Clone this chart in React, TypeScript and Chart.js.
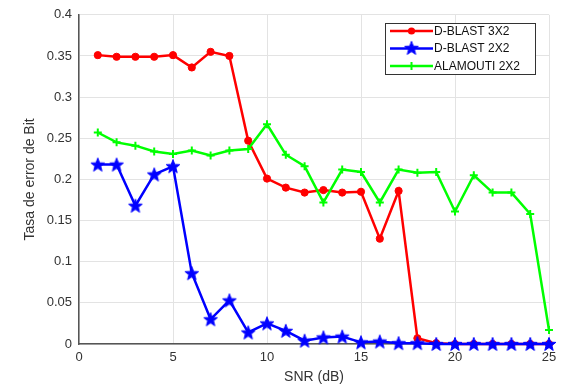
import React, { useEffect, useRef } from "react";
import { Chart, registerables } from "chart.js";

Chart.register(...registerables);

const snr = [1, 2, 3, 4, 5, 6, 7, 8, 9, 10, 11, 12, 13, 14, 15, 16, 17, 18, 19, 20, 21, 22, 23, 24, 25];
const dblast3x2 = [0.351, 0.349, 0.349, 0.349, 0.351, 0.336, 0.355, 0.35, 0.247, 0.201, 0.19, 0.184, 0.187, 0.184, 0.185, 0.128, 0.186, 0.007, 0.001, 0, 0, 0, 0, 0, 0];
const dblast2x2 = [0.218, 0.218, 0.168, 0.206, 0.216, 0.086, 0.03, 0.053, 0.014, 0.025, 0.016, 0.004, 0.008, 0.009, 0.002, 0.003, 0.001, 0.001, 0, 0, 0, 0, 0, 0, 0];
const alamouti = [0.257, 0.245, 0.241, 0.234, 0.231, 0.235, 0.229, 0.235, 0.237, 0.267, 0.23, 0.216, 0.172, 0.212, 0.209, 0.172, 0.212, 0.208, 0.209, 0.161, 0.205, 0.184, 0.184, 0.158, 0.017];
const seriesLabels = ["D-BLAST 3X2", "D-BLAST 2X2", "ALAMOUTI 2X2"];
const xTitle = "SNR (dB)";
const yTitle = "Tasa de error de Bit";

const FONT = "'Liberation Sans', Arial, sans-serif";

function drawStarPath(ctx: CanvasRenderingContext2D, cx: number, cy: number, ro: number, ri: number) {
  ctx.beginPath();
  for (let i = 0; i < 10; i++) {
    const r = i % 2 === 0 ? ro : ri;
    const a = -Math.PI / 2 + (i * Math.PI) / 5;
    const px = cx + r * Math.cos(a);
    const py = cy + r * Math.sin(a);
    if (i === 0) ctx.moveTo(px, py);
    else ctx.lineTo(px, py);
  }
  ctx.closePath();
}

function makeStar(color: string): HTMLCanvasElement {
  const c = document.createElement("canvas");
  c.width = 16;
  c.height = 16;
  const ctx = c.getContext("2d")!;
  drawStarPath(ctx, 8, 8.6, 7.2, 3.0);
  ctx.fillStyle = color;
  ctx.fill();
  ctx.strokeStyle = color;
  ctx.lineWidth = 1;
  ctx.stroke();
  return c;
}

const legendPlugin = {
  id: "insideLegend",
  afterDraw(chart: any) {
    const ctx = chart.ctx as CanvasRenderingContext2D;
    const bx = 385.5, by = 23.5, bw = 150, bh = 51;
    ctx.save();
    ctx.fillStyle = "#ffffff";
    ctx.fillRect(bx, by, bw, bh);
    ctx.strokeStyle = "#333333";
    ctx.lineWidth = 1;
    ctx.strokeRect(bx, by, bw, bh);
    const rows = [31, 48.5, 66];
    chart.data.datasets.forEach((ds: any, i: number) => {
      const y = rows[i];
      ctx.strokeStyle = ds.borderColor;
      ctx.lineWidth = 2.5;
      ctx.beginPath();
      ctx.moveTo(390, y);
      ctx.lineTo(433, y);
      ctx.stroke();
      const mx = 411.5;
      if (ds.markerKind === "circle") {
        ctx.fillStyle = ds.borderColor;
        ctx.beginPath();
        ctx.arc(mx, y, 3.6, 0, Math.PI * 2);
        ctx.fill();
      } else if (ds.markerKind === "star") {
        ctx.drawImage(ds.pointStyle, mx - 8, y - 8.6);
      } else {
        ctx.lineWidth = 2;
        ctx.beginPath();
        ctx.moveTo(mx - 4, y);
        ctx.lineTo(mx + 4, y);
        ctx.moveTo(mx, y - 4);
        ctx.lineTo(mx, y + 4);
        ctx.stroke();
      }
      ctx.fillStyle = "#111111";
      ctx.font = `12px ${FONT}`;
      ctx.textBaseline = "middle";
      ctx.textAlign = "left";
      ctx.fillText(ds.label, 434, y + 0.5);
    });
    ctx.restore();
  },
};

export default function App() {
  const ref = useRef<HTMLCanvasElement | null>(null);
  useEffect(() => {
    if (!ref.current) return;
    const star = makeStar("#0000ff");
    const toXY = (arr: number[]) => arr.map((v, i) => ({ x: snr[i], y: v }));
    const chart = new Chart(ref.current, {
      type: "line",
      data: {
        datasets: [
          {
            label: seriesLabels[0],
            data: toXY(dblast3x2),
            borderColor: "#ff0000",
            backgroundColor: "#ff0000",
            borderWidth: 2.5,
            pointStyle: "circle",
            pointRadius: 3.6,
            pointBorderWidth: 1,
            order: 2,
            clip: false,
            markerKind: "circle",
          } as any,
          {
            label: seriesLabels[1],
            data: toXY(dblast2x2),
            borderColor: "#0000ff",
            backgroundColor: "#0000ff",
            borderWidth: 2.5,
            pointStyle: star,
            pointRadius: 7,
            order: 1,
            clip: false,
            markerKind: "star",
          } as any,
          {
            label: seriesLabels[2],
            data: toXY(alamouti),
            borderColor: "#00ff00",
            backgroundColor: "#00ff00",
            borderWidth: 2.5,
            pointStyle: "cross",
            pointRadius: 4,
            pointBorderWidth: 2,
            order: 0,
            clip: false,
            markerKind: "cross",
          } as any,
        ],
      },
      options: {
        responsive: false,
        animation: false,
        devicePixelRatio: 1,
        layout: { padding: { left: 0, right: 18, top: 10, bottom: 0 } },
        plugins: { legend: { display: false }, tooltip: { enabled: false } },
        elements: { line: { tension: 0 } },
        scales: {
          x: {
            type: "linear",
            min: 0,
            max: 25,
            ticks: {
              stepSize: 5,
              padding: 6,
              color: "#333333",
              font: { family: FONT, size: 13 },
              maxRotation: 0,
            },
            grid: { color: "#e3e3e3", lineWidth: 1, drawTicks: false },
            border: { display: true, color: "#555555", width: 1.5 },
            title: {
              display: true,
              text: xTitle,
              color: "#333333",
              font: { family: FONT, size: 14 },
              padding: { top: 0, bottom: 3 },
            },
            afterFit: (s: any) => {
              s.height = 45;
            },
          },
          y: {
            type: "linear",
            min: 0,
            max: 0.4,
            ticks: {
              stepSize: 0.05,
              padding: 7,
              color: "#333333",
              font: { family: FONT, size: 13 },
              callback: (v: any) => String(Number(Number(v).toFixed(2))),
            },
            grid: { color: "#e3e3e3", lineWidth: 1, drawTicks: false },
            border: { display: true, color: "#555555", width: 1.5 },
            title: {
              display: true,
              text: yTitle,
              color: "#333333",
              font: { family: FONT, size: 14 },
              padding: { top: 22, bottom: 0 },
            },
            afterFit: (s: any) => {
              s.width = 79;
            },
          },
        },
      },
      plugins: [legendPlugin],
    });
    return () => chart.destroy();
  }, []);
  return (
    <div style={{ position: "absolute", left: 0, top: 0, width: 567, height: 389, background: "#fff" }}>
      <canvas ref={ref} width={567} height={389} style={{ width: 567, height: 389, display: "block" }} />
    </div>
  );
}
